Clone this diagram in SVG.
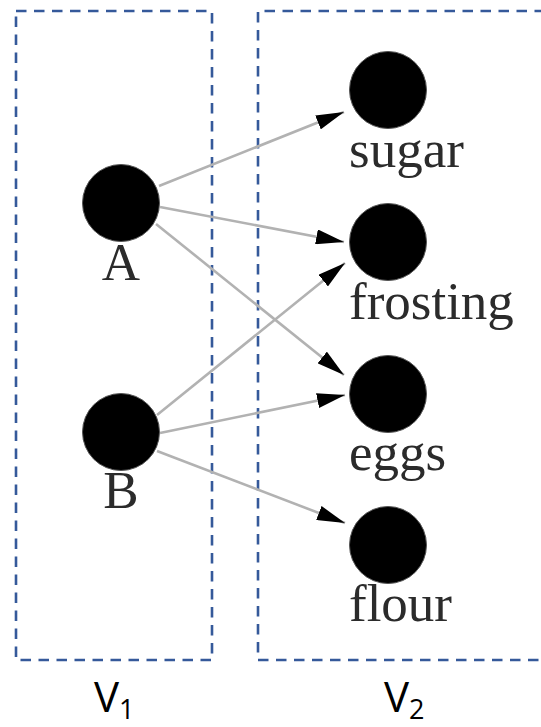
<svg xmlns="http://www.w3.org/2000/svg" width="541" height="727" viewBox="0 0 541 727">
  <style>
    .part { fill: none; stroke: #35599a; stroke-width: 2.6; stroke-dasharray: 10.5 7.5; }
    .node { fill: #000; stroke: #555; stroke-width: 1; }
    .lbl { font-family: "Liberation Serif", "Times New Roman", serif; font-size: 53px; fill: #2b2b2b; }
    .edge { fill: none; stroke: #b2b2b2; stroke-width: 2.6; marker-end: url(#head); }
    .set { font-family: "Open Sans", "Liberation Sans", sans-serif; font-size: 42px; fill: #000; }
    .sub { font-size: 27px; }
  </style>
  <defs>
    <marker id="head" viewBox="0 0 28 15" markerWidth="28" markerHeight="15" refX="28" refY="7.5" orient="auto" markerUnits="userSpaceOnUse">
      <path d="M0,0 L28,7.5 L0,15 z" fill="#000"/>
    </marker>
  </defs>

  <!-- partition boxes -->
  <g id="partitions">
    <rect class="part" x="16" y="11" width="196" height="649"/>
    <path class="part" d="M545,11 L258,11 L258,660 L545,660"/>
  </g>

  <!-- edges -->
  <g id="edges">
    <line class="edge" x1="159" y1="186" x2="344" y2="112"/>
    <line class="edge" x1="160" y1="207" x2="344" y2="242"/>
    <line class="edge" x1="156" y1="224" x2="344" y2="375"/>
    <line class="edge" x1="157" y1="415" x2="345" y2="263"/>
    <line class="edge" x1="160" y1="433" x2="345" y2="395"/>
    <line class="edge" x1="157" y1="451" x2="345" y2="523"/>
  </g>

  <!-- nodes -->
  <g id="node-A">
    <circle class="node" cx="121" cy="203" r="38.5"/>
    <text class="lbl" x="121" y="280" text-anchor="middle">A</text>
  </g>
  <g id="node-B">
    <circle class="node" cx="121" cy="432" r="38.5"/>
    <text class="lbl" x="121" y="508" text-anchor="middle">B</text>
  </g>
  <g id="node-sugar">
    <circle class="node" cx="388" cy="90" r="38.5"/>
    <text class="lbl" x="349" y="167">sugar</text>
  </g>
  <g id="node-frosting">
    <circle class="node" cx="388" cy="242" r="38.5"/>
    <text class="lbl" x="349" y="319">frosting</text>
  </g>
  <g id="node-eggs">
    <circle class="node" cx="388" cy="394" r="38.5"/>
    <text class="lbl" x="349" y="470">eggs</text>
  </g>
  <g id="node-flour">
    <circle class="node" cx="388" cy="545" r="38.5"/>
    <text class="lbl" x="349" y="621">flour</text>
  </g>

  <!-- set labels -->
  <g id="set-labels">
    <text class="set" x="94" y="712">V<tspan class="sub" dy="7">1</tspan></text>
    <text class="set" x="384" y="712">V<tspan class="sub" dy="7">2</tspan></text>
  </g>
</svg>
